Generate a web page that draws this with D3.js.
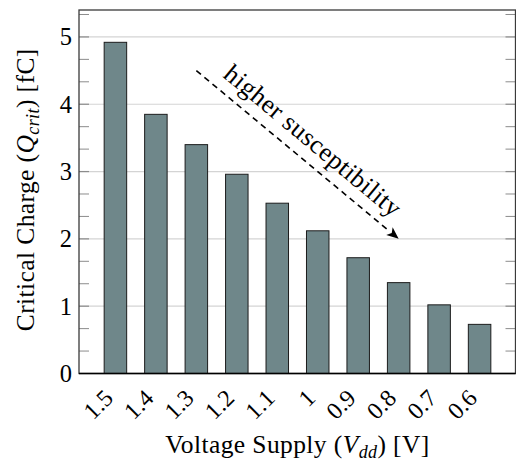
<!DOCTYPE html>
<html>
<head>
<meta charset="utf-8">
<script src="https://cdn.jsdelivr.net/npm/d3@7"></script>
<style>
  html, body { margin: 0; padding: 0; background: #fff; }
  svg { display: block; }
  svg text { font-family: "Liberation Serif", "DejaVu Serif", serif; fill: #000; }
</style>
</head>
<body>
<svg id="chart" width="516" height="464"></svg>
<script>
// Supply voltages (V) and the critical charge measured at each (fC)
const voltages = ["1.5", "1.4", "1.3", "1.2", "1.1", "1", "0.9", "0.8", "0.7", "0.6"];
const qcrit = [4.92, 3.85, 3.40, 2.96, 2.53, 2.12, 1.72, 1.35, 1.02, 0.73];
const yTicks = [0, 1, 2, 3, 4, 5];
const yMax = 5.4;
// Annotation arrow: from (1.3 V, 4.5 fC) to (0.8 V, 2.0 fC)
const arrowFrom = ["1.3", 4.5];
const arrowTo = ["0.8", 2.0];
const arrowText = "higher susceptibility";

const FONT = "'Liberation Serif', 'DejaVu Serif', serif";
const svg = d3.select("#chart");
const L = 79, R = 515.5, T = 10, B = 373.5;

const x = d3.scaleBand().domain(voltages).range([L, 516])
  .paddingInner(0.444).paddingOuter(0.622);
const xc = v => x(v) + x.bandwidth() / 2;
const y = d3.scaleLinear().domain([0, yMax]).range([B, T]);

// Horizontal grid lines
svg.append("g").selectAll("line").data(yTicks.filter(d => d > 0)).join("line")
  .attr("x1", L).attr("x2", R)
  .attr("y1", d => y(d)).attr("y2", d => y(d))
  .attr("stroke", "#d4d4d4").attr("stroke-width", 1.2);

// Minor ticks every 1/3 on left and right axes
const minor = d3.range(1, 17).map(i => i / 3).filter(v => Math.abs(v - Math.round(v)) > 1e-6);
const tickG = svg.append("g");
[[L, L + 10], [R - 10, R]].forEach(([a, b]) => {
  tickG.append("g").selectAll("line").data(minor).join("line")
    .attr("x1", a).attr("x2", b)
    .attr("y1", d => y(d)).attr("y2", d => y(d))
    .attr("stroke", "#8c8c8c").attr("stroke-width", 1);
  tickG.append("g").selectAll("line").data(yTicks.filter(d => d > 0)).join("line")
    .attr("x1", a).attr("x2", b)
    .attr("y1", d => y(d)).attr("y2", d => y(d))
    .attr("stroke", "#8c8c8c").attr("stroke-width", 1.2);
});

// Bars
svg.append("g").selectAll("rect").data(voltages).join("rect")
  .attr("x", d => x(d))
  .attr("width", x.bandwidth())
  .attr("y", (d, i) => y(qcrit[i]))
  .attr("height", (d, i) => y(0) - y(qcrit[i]))
  .attr("fill", "#6f878a")
  .attr("stroke", "#1c1c1c").attr("stroke-width", 1);

// Frame
svg.append("rect")
  .attr("x", L).attr("y", T).attr("width", R - L).attr("height", B - T)
  .attr("fill", "none").attr("stroke", "#3a3a3a").attr("stroke-width", 1.3);
svg.append("line").attr("x1", L).attr("x2", R).attr("y1", B).attr("y2", B)
  .attr("stroke", "#000").attr("stroke-width", 1.4);

// Y tick labels
svg.append("g").selectAll("text").data(yTicks).join("text")
  .attr("x", L - 7).attr("y", d => y(d))
  .attr("dy", "0.34em")
  .attr("text-anchor", "end")
  .attr("font-family", FONT)
  .attr("font-size", 24.5)
  .text(d => d);

// X tick labels, rotated
svg.append("g").selectAll("text").data(voltages).join("text")
  .attr("transform", d => `translate(${xc(d) - 1},${B + 26}) rotate(-45)`)
  .attr("text-anchor", "end")
  .attr("font-family", FONT)
  .attr("font-size", 24)
  .text(d => d);

// Axis titles
const xt = svg.append("text")
  .attr("x", (L + 516) / 2).attr("y", 453)
  .attr("text-anchor", "middle").attr("font-size", 25.5)
  .attr("font-family", FONT)
  .attr("letter-spacing", 0.4);
xt.append("tspan").text("Voltage Supply (");
xt.append("tspan").attr("font-style", "italic").text("V");
xt.append("tspan").attr("font-style", "italic").attr("font-size", 18).attr("dy", 5).text("dd");
xt.append("tspan").attr("dy", -5).text(") [V]");

const yt = svg.append("text")
  .attr("transform", `translate(34,${(T + B) / 2 - 2}) rotate(-90)`)
  .attr("text-anchor", "middle").attr("font-size", 25.5)
  .attr("font-family", FONT)
  .attr("letter-spacing", 0.4);
yt.append("tspan").text("Critical Charge (");
yt.append("tspan").attr("font-style", "italic").text("Q");
yt.append("tspan").attr("font-style", "italic").attr("font-size", 18).attr("dy", 5).text("crit");
yt.append("tspan").attr("dy", -5).text(") [fC]");

// Dashed annotation arrow
const x1 = xc(arrowFrom[0]), y1 = y(arrowFrom[1]);
const x2 = xc(arrowTo[0]), y2 = y(arrowTo[1]);
const ang = Math.atan2(y2 - y1, x2 - x1);
const head = 12, hw = 5;
const bx = x2 - head * Math.cos(ang), by = y2 - head * Math.sin(ang);
svg.append("line")
  .attr("x1", x1).attr("y1", y1).attr("x2", bx).attr("y2", by)
  .attr("stroke", "#000").attr("stroke-width", 1.6)
  .attr("stroke-dasharray", "6,4.5");
svg.append("path")
  .attr("d", `M${x2},${y2} L${bx - hw * Math.sin(ang)},${by + hw * Math.cos(ang)} L${bx + 3 * Math.cos(ang)},${by + 3 * Math.sin(ang)} L${bx + hw * Math.sin(ang)},${by - hw * Math.cos(ang)} Z`)
  .attr("fill", "#000");

const deg = ang * 180 / Math.PI;
const mx = (x1 + x2) / 2 + 12 * Math.sin(ang) + 3 * Math.cos(ang),
      my = (y1 + y2) / 2 - 12 * Math.cos(ang) + 3 * Math.sin(ang);
svg.append("text")
  .attr("transform", `translate(${mx},${my}) rotate(${deg})`)
  .attr("text-anchor", "middle").attr("font-size", 26)
  .attr("font-family", FONT)
  .attr("letter-spacing", 0.5)
  .text(arrowText);
</script>
</body>
</html>
